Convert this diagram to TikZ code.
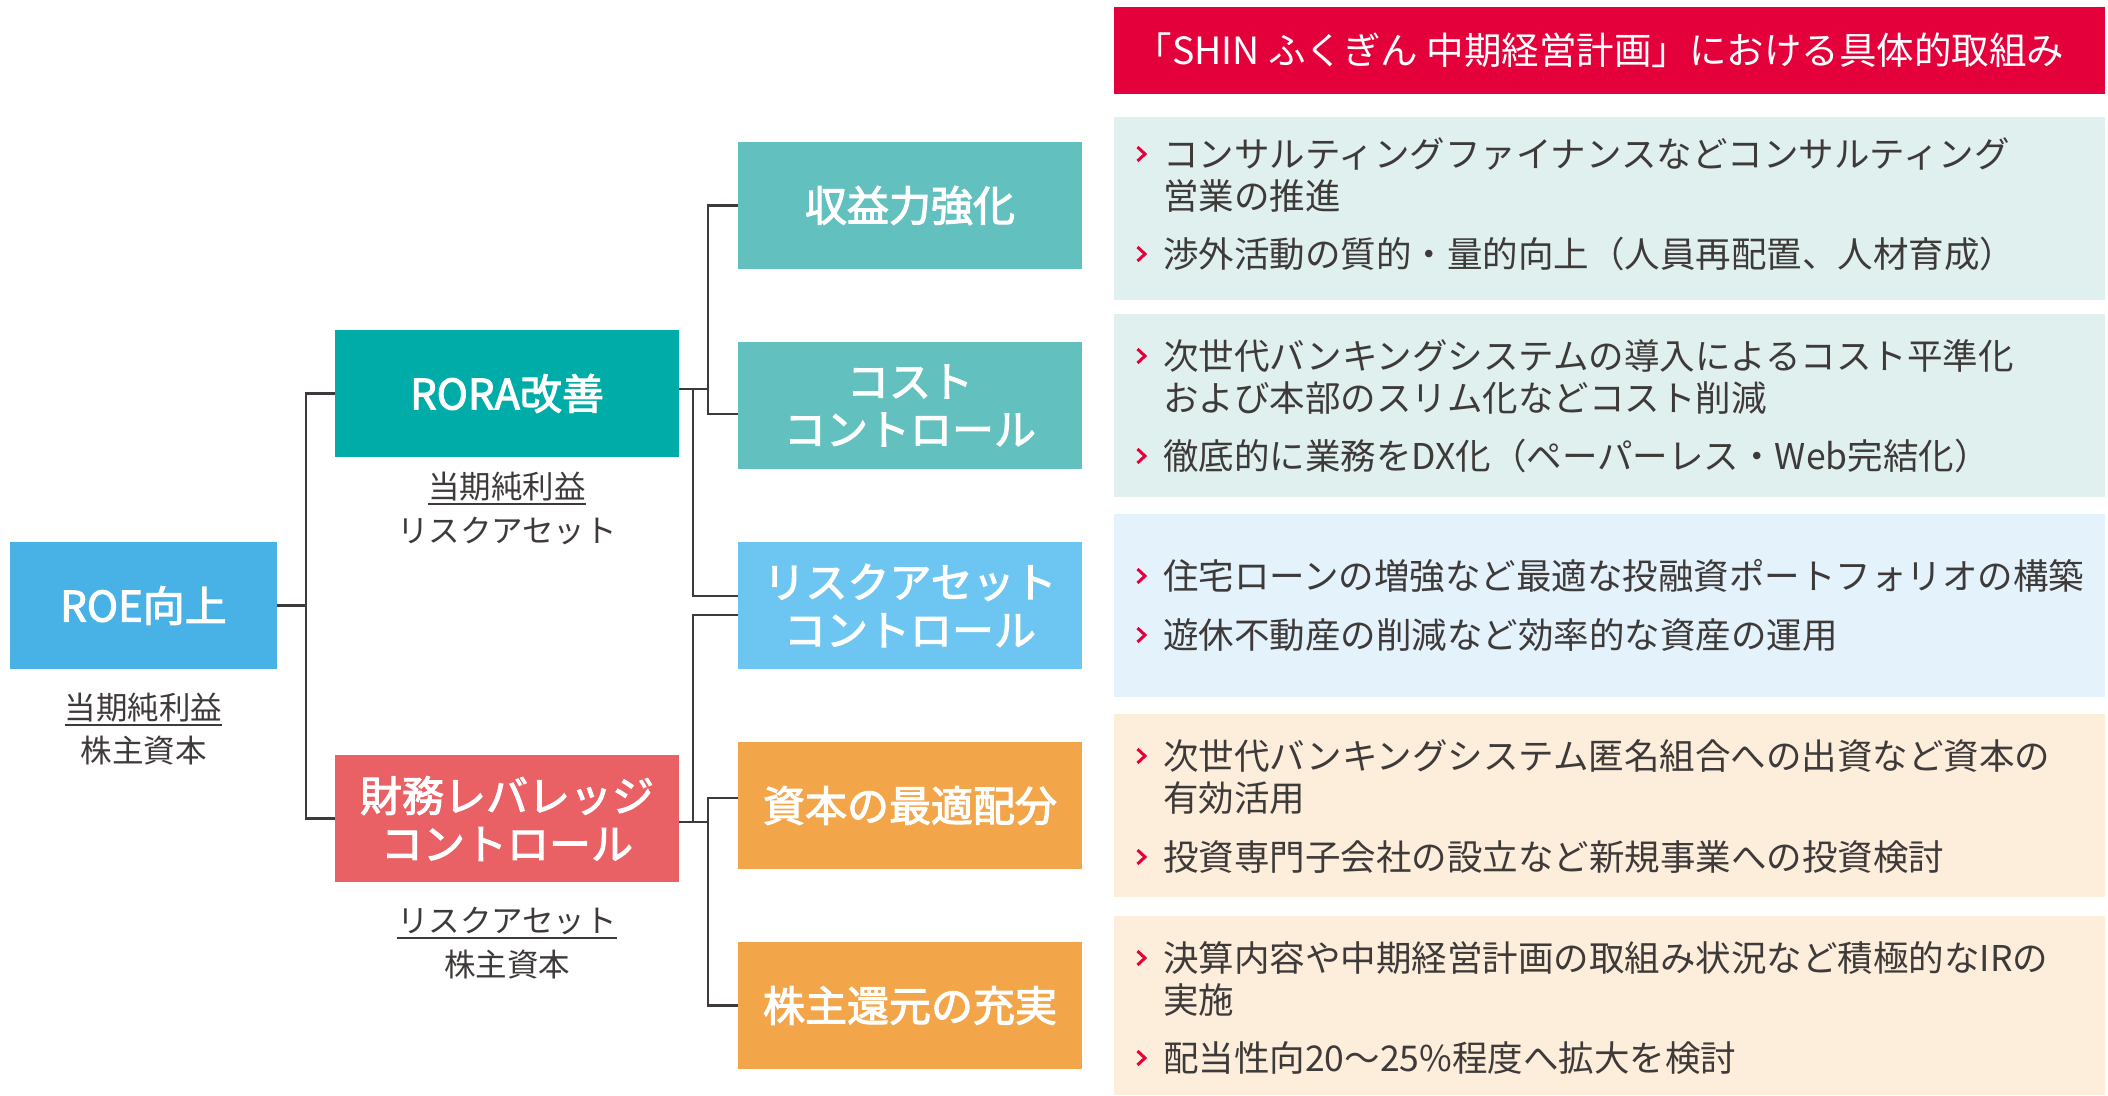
\documentclass[tikz,border=0pt]{standalone}
\usepackage{fontspec}
\setmainfont{Noto Sans CJK JP}
\newfontfamily\boxfont{Noto Sans CJK JP}[FakeBold=2.5]
\definecolor{roeblue}{HTML}{48B1E5}
\definecolor{rorateal}{HTML}{00ACA8}
\definecolor{finred}{HTML}{E96164}
\definecolor{lteal}{HTML}{62C1BF}
\definecolor{ltblue}{HTML}{6DC6F1}
\definecolor{orng}{HTML}{F3A549}
\definecolor{hdrred}{HTML}{E4003A}
\definecolor{panteal}{HTML}{DFF0EF}
\definecolor{panblue}{HTML}{E3F2FB}
\definecolor{panorange}{HTML}{FDEEDC}
\definecolor{textgray}{HTML}{3E3A39}
\definecolor{linegray}{HTML}{3E3A39}
\newcommand\chevat[1]{\draw[chev] ([xshift=-25.5pt,yshift=7pt]#1.west) -- ([xshift=-18pt]#1.west) -- ([xshift=-25.5pt,yshift=-7pt]#1.west);}
\begin{document}
\begin{tikzpicture}[x=1pt,y=-1pt,
  box/.style={minimum width=344pt,minimum height=127pt,inner sep=0pt,text=white,align=center,font=\boxfont\fontsize{42}{48}\selectfont},
  conn/.style={draw=linegray,line width=2.6pt,line join=miter},
  lbl/.style={inner sep=0pt,text=textgray,font=\fontsize{31.5}{36}\selectfont,text height=27.7pt,text depth=3.8pt},
  uline/.style={draw=textgray,line width=1.8pt},
  ptxt/.style={anchor=west,inner sep=0pt,text=textgray,font=\fontsize{35.5}{42}\selectfont,text height=31.2pt,text depth=4.3pt},
  chev/.style={draw=hdrred,line width=3pt,line join=miter},
  hdr/.style={fill=hdrred,minimum width=991pt,minimum height=87pt,inner sep=0pt,text=white,font=\fontsize{37.5}{42}\selectfont}
]
\useasboundingbox (0,0) rectangle (2108,1095);
\fill[white] (0,0) rectangle (2108,1095);

% boxes
\node[box,fill=roeblue,minimum width=267pt] (roe) at (143.5,605.5) {ROE向上};
\node[box,fill=rorateal] (rora) at (507,393.5) {RORA改善};
\node[box,fill=finred] (fin) at (507,818.5) {財務レバレッジ\\コントロール};
\node[box,fill=lteal] (shueki) at (910,205.5) {収益力強化};
\node[box,fill=lteal] (cost) at (910,405.5) {コスト\\コントロール};
\node[box,fill=ltblue] (risk) at (910,605.5) {リスクアセット\\コントロール};
\node[box,fill=orng] (shihon) at (910,805.5) {資本の最適配分};
\node[box,fill=orng] (kabu) at (910,1005.5) {株主還元の充実};

% connectors
\coordinate (j0) at (306,605.5);
\draw[conn] (roe.east) -- (j0);
\draw[conn] (rora.west) -| (j0) |- (fin.west);
\coordinate (ja) at (708,389);
\coordinate (jb) at (693,389);
\draw[conn] ([yshift=4.5pt]rora.east) -- (ja);
\draw[conn] (shueki.west) -| (ja) |- ([yshift=-8.5pt]cost.west);
\draw[conn] (jb) |- ([yshift=9.5pt]risk.west);
\coordinate (jc) at (693,822);
\coordinate (jd) at (708,822);
\draw[conn] ([yshift=-3.5pt]fin.east) -- (jd);
\draw[conn] ([yshift=-9.5pt]risk.west) -| (jc);
\draw[conn] ([yshift=7.5pt]shihon.west) -| (jd) |- (kabu.west);

% labels
\node[lbl] (roeL1) at (143.5,708) {当期純利益};
\node[lbl] (roeL2) at (143.5,751) {株主資本};
\draw[uline] ([yshift=-17pt]roeL1.west) -- ([yshift=-17pt]roeL1.east);
\node[lbl] (roraL1) at (507,487) {当期純利益};
\node[lbl] (roraL2) at (507,531) {リスクアセット};
\draw[uline] ([yshift=-17pt]roraL1.west) -- ([yshift=-17pt]roraL1.east);
\node[lbl] (finL1) at (507,921) {リスクアセット};
\node[lbl] (finL2) at (507,965) {株主資本};
\draw[uline] ([yshift=-17pt]finL1.west) -- ([yshift=-17pt]finL1.east);

% header
\node[hdr] (hdr) at (1609.5,50.5) {「SHIN ふくぎん 中期経営計画」における具体的取組み\hspace*{20pt}};

% panels
\fill[panteal] (1114,117) rectangle (2105,300);
\fill[panteal] (1114,314) rectangle (2105,497);
\fill[panblue] (1114,514) rectangle (2105,697);
\fill[panorange] (1114,714) rectangle (2105,897);
\fill[panorange] (1114,916) rectangle (2105,1095);

% panel 1
\node[ptxt] (p1a) at (1163,154) {コンサルティングファイナンスなどコンサルティング};
\node[ptxt] (p1b) at (1163,196) {営業の推進};
\node[ptxt] (p1c) at (1163,254) {渉外活動の質的・量的向上（人員再配置、人材育成）};
\chevat{p1a}\chevat{p1c}
% panel 2
\node[ptxt] (p2a) at (1163,356) {次世代バンキングシステムの導入によるコスト平準化};
\node[ptxt] (p2b) at (1163,398) {および本部のスリム化などコスト削減};
\node[ptxt] (p2c) at (1163,456) {徹底的に業務をDX化（ペーパーレス・Web完結化）};
\chevat{p2a}\chevat{p2c}
% panel 3
\node[ptxt] (p3a) at (1163,576) {住宅ローンの増強など最適な投融資ポートフォリオの構築};
\node[ptxt] (p3b) at (1163,635) {遊休不動産の削減など効率的な資産の運用};
\chevat{p3a}\chevat{p3b}
% panel 4
\node[ptxt] (p4a) at (1163,756) {次世代バンキングシステム匿名組合への出資など資本の};
\node[ptxt] (p4b) at (1163,798) {有効活用};
\node[ptxt] (p4c) at (1163,857) {投資専門子会社の設立など新規事業への投資検討};
\chevat{p4a}\chevat{p4c}
% panel 5
\node[ptxt] (p5a) at (1163,958) {決算内容や中期経営計画の取組み状況など積極的なIRの};
\node[ptxt] (p5b) at (1163,1000) {実施};
\node[ptxt] (p5c) at (1163,1058) {配当性向20～25\%程度へ拡大を検討};
\chevat{p5a}\chevat{p5c}
\end{tikzpicture}
\end{document}
